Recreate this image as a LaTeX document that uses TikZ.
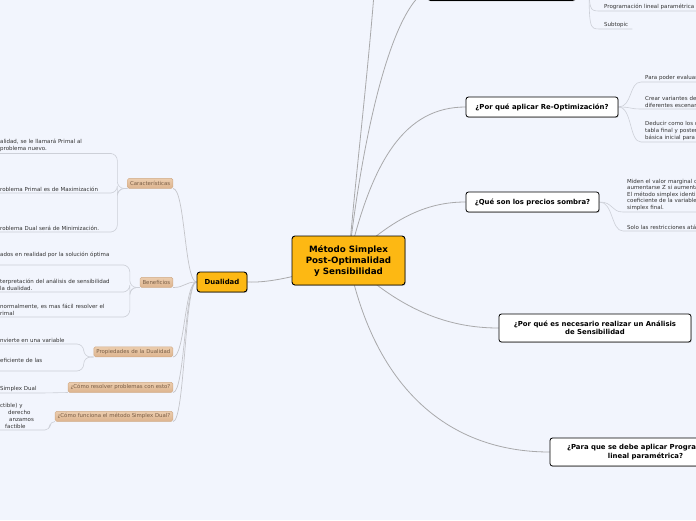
\documentclass[tikz,border=0pt]{standalone}
\usepackage{fontspec}
\setmainfont{DejaVu Sans}
\usetikzlibrary{positioning,calc,backgrounds,shadows}
\definecolor{canvas}{HTML}{F2F5FD}
\definecolor{amber}{HTML}{FDB813}
\definecolor{tantop}{HTML}{ECCDAE}
\definecolor{tanbot}{HTML}{DDB48F}
\definecolor{tanline}{HTML}{D0AA86}
\definecolor{tantext}{HTML}{7A5E46}
\definecolor{ink}{HTML}{333333}
\definecolor{branchc}{HTML}{A9A9AB}
\definecolor{limbc}{HTML}{C4C5CA}
\definecolor{twigc}{HTML}{CDD0D8}

\begin{document}
\begin{tikzpicture}[x=1pt,y=-1pt,
    root/.style={draw=black,fill=amber,line width=0.9pt,rounded corners=3pt,
                 minimum width=113pt,minimum height=49pt,align=center,
                 font=\fontsize{8.7}{11}\selectfont\bfseries,
                 drop shadow={shadow xshift=0.7pt,shadow yshift=-0.9pt,fill=black!45}},
    topic/.style={draw=black,fill=white,line width=0.8pt,rounded corners=2.5pt,
                  minimum height=20pt,align=center,inner sep=2pt,
                  font=\fontsize{6.9}{8.5}\selectfont\bfseries,
                  drop shadow={shadow xshift=0.7pt,shadow yshift=-0.9pt,fill=black!40}},
    tanbox/.style={draw=tanline,line width=0.4pt,top color=tantop,bottom color=tanbot,
                   rounded corners=1.5pt,anchor=south east,minimum height=10pt,
                   inner xsep=2.5pt,inner ysep=0pt,text=tantext,
                   font=\fontsize{5.4}{6.5}\selectfont},
    leaf/.style={anchor=south west,align=left,inner xsep=4pt,inner ysep=1.5pt,
                 text=ink,font=\fontsize{5.5}{6.8}\selectfont},
    branch/.style={draw=branchc,line width=0.8pt},
    limb/.style={draw=limbc,line width=0.7pt},
    twig/.style={draw=twigc,line width=0.6pt}]
  \useasboundingbox (0,0) rectangle (696,520);
  \begin{pgfonlayer}{background}
    \fill[canvas] (0,0) rectangle (696,520);
  \end{pgfonlayer}

  % central topic
  \node[root] (cen) at (348.5,260.5) {Método Simplex\\Post-Optimalidad\\y Sensibilidad};
  \node[root,minimum width=50pt,minimum height=20pt,
        font=\fontsize{6.9}{8.5}\selectfont\bfseries] (dual) at (222,282) {Dualidad};

  % right topics
  \node[topic,minimum width=147pt,minimum height=22pt] (tb) at (501.5,-10.5) {};
  \node[topic,minimum width=152pt] (reopt) at (542,107) {¿Por qué aplicar Re-Optimización?};
  \node[topic,minimum width=133pt] (sombra) at (532.5,202) {¿Qué son los precios sombra?};
  \node[topic,minimum width=192pt,minimum height=28pt] (anal) at (595,328)
       {¿Por qué es necesario realizar un Análisis\\de Sensibilidad};
  \node[topic,minimum width=191pt,minimum height=28pt] (param) at (645.5,452)
       {¿Para que se debe aplicar Programación\\lineal paramétrica?};
  \coordinate (farup) at (378,-60);
  \coordinate (farprog) at (589,-30);

  % right leaves
  \node[leaf,text width=100pt] (prog) at (600,11) {Programación lineal paramétrica};
  \node[leaf,text width=24pt] (subt) at (600,29) {Subtopic};
  \node[leaf,text width=80pt] (r1) at (641,82) {Para poder evaluar};
  \node[leaf,text width=80pt] (r2) at (641,109) {Crear variantes de\\diferentes escenar};
  \node[leaf,text width=80pt] (r3) at (641,142) {Deducir como los c\\tabla final y poster\\básica inicial para};
  \node[leaf,text width=90pt,font=\fontsize{5.5}{6.5}\selectfont] (s1) at (623,212)
       {Miden el valor marginal c\\aumentarse Z si aumenta\\El método simplex identi\\coeficiente de la variable\\simplex final.};
  \node[leaf,text width=90pt] (s2) at (623,231) {Solo las restricciones atá};

  % dualidad tags
  \node[tanbox] (car) at (173,188.5) {Características};
  \node[tanbox] (ben) at (173,287.5) {Beneficios};
  \node[tanbox] (prop) at (173,357) {Propiedades de la Dualidad};
  \node[tanbox] (res) at (173,392.5) {¿Cómo resolver problemas con esto?};
  \node[tanbox] (fun) at (173,421.5) {¿Cómo funciona el método Simplex Dual?};

  % left leaves
  \node[leaf,text width=100pt] (c1) at (-4,153.5) {alidad, se le llamará Primal al\\problema nuevo.};
  \node[leaf,text width=100pt] (c2) at (-4,193) {roblema Primal es de Maximización};
  \node[leaf,text width=100pt] (c3) at (-4,232) {roblema Dual será de Minimización.};
  \node[leaf,text width=113pt] (b1) at (-4,265) {ados en realidad por la solución óptima\\\mbox{}};
  \node[leaf,text width=113pt] (b2) at (-4,292) {terpretación del análisis de sensibilidad\\la dualidad.};
  \node[leaf,text width=113pt] (b3) at (-4,317) {normalmente, es mas fácil resolver el\\rimal};
  \node[leaf,text width=66pt] (p1) at (-4,344) {nvierte en una variable};
  \node[leaf,text width=66pt] (p2) at (-4,371) {eficiente de las\\\mbox{}};
  \node[leaf,text width=38pt] (sd) at (-4,393) {Simplex Dual};
  \node[leaf,text width=36pt] (fl) at (-4,430)
       {ctible) y\\\hspace*{8pt}derecho\\\hspace*{9pt}anzamos\\\hspace*{5pt}factible};

  \begin{pgfonlayer}{background}
    % centre to main topics
    \draw[branch] (dual.east) .. controls (270,283) and (300,276) .. (cen.center);
    \draw[branch] (cen.center) .. controls (358,150) and (370,60) .. (farup);
    \draw[branch] (cen.center) .. controls (362,140) and (390,10) .. (tb.west);
    \draw[branch] (cen.center) .. controls (372,160) and (405,107) .. (reopt.west);
    \draw[branch] (cen.center) .. controls (395,215) and (430,202) .. (sombra.west);
    \draw[branch] (cen.center) .. controls (405,315) and (455,328) .. (anal.west);
    \draw[branch] (cen.center) .. controls (375,390) and (450,452) .. (param.west);
    % dualidad to tags
    \foreach \t in {car,ben,prop,res,fun}
      \draw[limb] (dual.west) .. controls +(-12,0) and +(12,0) .. (\t.south east);
    % tags to leaves
    \foreach \l in {c1,c2,c3}
      \draw[twig,rounded corners=7pt] (car.south west) -- ++(-10,0) |- (\l.south east) -- (\l.south west);
    \foreach \l in {b1,b2,b3}
      \draw[twig,rounded corners=7pt] (ben.south west) -- ++(-10,0) |- (\l.south east) -- (\l.south west);
    \foreach \l in {p1,p2}
      \draw[twig,rounded corners=7pt] (prop.south west) -- ++(-10,0) |- (\l.south east) -- (\l.south west);
    \draw[twig] (res.south west) -- (sd.south east) -- (sd.south west);
    \draw[twig,rounded corners=5pt] (fun.south west) -- ++(-5,0) |- (fl.south east) -- (fl.south west);
    % right leaves
    \foreach \l in {r1,r2,r3}
      \draw[twig] (reopt.east) .. controls +(14,0) and +(-12,0) .. (\l.south west) -- (\l.south east);
    \foreach \l in {s1,s2}
      \draw[twig] (sombra.east) .. controls +(14,0) and +(-12,0) .. (\l.south west) -- (\l.south east);
    \draw[twig] (farprog) .. controls (589,11) .. (prog.south west) -- (prog.south east);
    \draw[twig] (farprog) .. controls (589,29) .. (subt.south west) -- (subt.south east);
  \end{pgfonlayer}
\end{tikzpicture}
\end{document}
